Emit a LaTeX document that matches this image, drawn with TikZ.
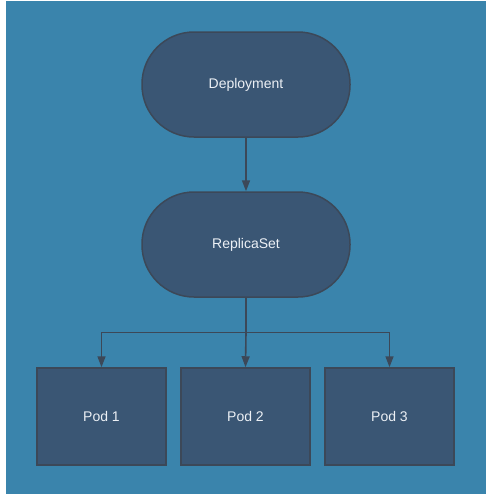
\documentclass[tikz,border=0pt]{standalone}
\usepackage{fontspec}
\setmainfont{Liberation Sans}
\usetikzlibrary{arrows.meta}
\definecolor{bgblue}{RGB}{58,132,172}
\definecolor{nodefill}{RGB}{58,86,116}
\definecolor{nodeline}{RGB}{60,72,88}
\definecolor{txt}{RGB}{236,240,245}
\tikzset{
  x=1pt,y=-1pt,
  stadium/.style={draw=nodeline, line width=1.5pt, fill=nodefill, rectangle, rounded corners=52pt,
    minimum width=208pt, minimum height=105pt, inner sep=0pt, text=txt, font=\fontsize{14}{16}\selectfont},
  podbox/.style={draw=nodeline, line width=1.5pt, fill=nodefill, rectangle,
    minimum width=129pt, minimum height=97pt, inner sep=0pt, text=txt, font=\fontsize{14}{16}\selectfont},
  conn/.style={draw=nodeline, line width=1.6pt, -{Triangle[length=11pt,width=8pt]}},
  connplain/.style={draw=nodeline, line width=1.6pt}
}
\begin{document}
\begin{tikzpicture}
\useasboundingbox (0,0) rectangle (488,496);
\fill[white] (0,0) rectangle (488,496);
\fill[bgblue] (6,1) rectangle (486,494);
\node[stadium] (dep) at (246,84.5) {Deployment};
\node[stadium] (rs) at (246,244.5) {ReplicaSet};
\node[podbox] (p1) at (101.5,416.5) {Pod 1};
\node[podbox] (p2) at (245.5,416.5) {Pod 2};
\node[podbox] (p3) at (389.5,416.5) {Pod 3};
\coordinate (split) at (246,332.5);
\draw[conn] (dep) -- (rs);
\draw[connplain] (rs.south) -- (split);
\draw[conn] (split) -| (p1.north);
\draw[conn] (split) -- (p2.north);
\draw[conn] (split) -| (p3.north);
\end{tikzpicture}
\end{document}
